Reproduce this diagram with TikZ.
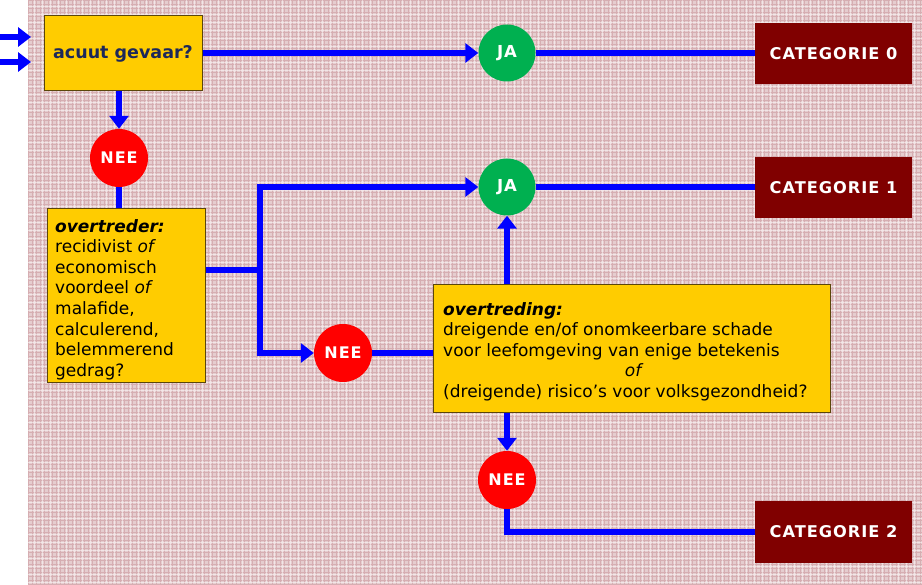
\documentclass[tikz,border=0pt]{standalone}
\usepackage{fontspec}
\setmainfont{DejaVu Sans}
\usetikzlibrary{arrows.meta}

\definecolor{plaid}{RGB}{229,205,207}
\definecolor{plaidline}{RGB}{214,174,178}
\definecolor{boxyellow}{RGB}{255,204,0}
\definecolor{boxedge}{RGB}{90,70,10}
\definecolor{catred}{RGB}{128,0,0}
\definecolor{yesgreen}{RGB}{0,176,80}
\definecolor{nored}{RGB}{255,0,0}
\definecolor{flowblue}{RGB}{0,0,255}
\definecolor{navytext}{RGB}{28,40,90}

\newcommand{\spaced}{\addfontfeatures{LetterSpace=6}}

\tikzset{
  question/.style={draw=boxedge, line width=1pt, fill=boxyellow, inner sep=0pt},
  category/.style={fill=catred, text=white, inner sep=0pt,
    minimum width=157pt, minimum height=61pt,
    font=\bfseries\fontsize{16.2}{18}\selectfont\spaced},
  yesdot/.style={circle, fill=yesgreen, text=white, inner sep=0pt,
    minimum size=57pt, font=\bfseries\fontsize{16.5}{18}\selectfont\spaced},
  nodot/.style={circle, fill=nored, text=white, inner sep=0pt,
    minimum size=58pt, font=\bfseries\fontsize{16}{18}\selectfont\spaced},
  flow/.style={draw=flowblue, line width=6pt, line join=miter},
  flowarrow/.style={flow, -{Triangle[length=13pt,width=19pt]}},
}

\begin{document}
\begin{tikzpicture}[x=1pt, y=-1pt]
  \useasboundingbox (0,0) rectangle (922,585);

  % checked backdrop
  \fill[plaid] (28,0) rectangle (922,585);
  \begin{scope}
    \clip (28,0) rectangle (922,585);
    \draw[plaidline, line width=0.6pt] (28,0) grid[step=4pt] (922,585);
    \draw[white, opacity=0.5, line width=0.5pt, xshift=2pt, yshift=2pt] (26,-2) grid[step=8pt] (922,585);
  \end{scope}

  % boxes
  \node[question, minimum width=158pt, minimum height=75pt, text=navytext,
        font=\bfseries\fontsize{17.5}{20}\selectfont] (acuut) at (123,53.5) {acuut gevaar?};

  \node[question, minimum width=158pt, minimum height=174pt] (dader) at (126,296) {};
  \node[anchor=north west, inner sep=0pt, align=left,
        font=\fontsize{17}{20.6}\selectfont] (daderText) at (55,219)
    {\textbf{\textit{overtreder:}}\\ recidivist \textit{of}\\ economisch\\ voordeel \textit{of}\\ malafide,\\ calculerend,\\ belemmerend\\ gedrag?};

  \node[question, minimum width=397pt, minimum height=128pt] (daad) at (631.5,349) {};
  \node[anchor=north west, inner sep=0pt, align=left,
        font=\fontsize{17}{20.6}\selectfont] (daadText) at (443,302)
    {\textbf{\textit{overtreding:}}\\
     dreigende en/of onomkeerbare schade\\
     voor leefomgeving van enige betekenis\\
     \makebox[382pt][c]{\textit{of}}\\
     (dreigende) risico’s voor volksgezondheid?};

  \node[category] (cat0) at (833.5,53.5) {CATEGORIE 0};
  \node[category] (cat1) at (833.5,188) {CATEGORIE 1};
  \node[category] (cat2) at (833.5,532) {CATEGORIE 2};

  % decision dots
  \node[yesdot] (ja0) at (507,53) {JA};
  \node[yesdot] (ja1) at (507,187) {JA};
  \node[nodot] (nee0) at (119,158) {NEE};
  \node[nodot] (nee1) at (343,353) {NEE};
  \node[nodot] (nee2) at (507,480) {NEE};

  % entry arrows
  \coordinate (inA) at (0,37);
  \coordinate (inAend) at (31,37);
  \coordinate (inB) at (0,62);
  \coordinate (inBend) at (31,62);
  \draw[flowarrow] (inA) -- (inAend);
  \draw[flowarrow] (inB) -- (inBend);

  % connectors
  \draw[flowarrow] (acuut.east |- ja0) -- (ja0.west);
  \draw[flow] (ja0.east) -- (cat0.west |- ja0);
  \draw[flowarrow] (acuut.south -| nee0) -- (nee0.north);
  \draw[flow] (nee0.south) -- (nee0 |- dader.north);

  \coordinate (split) at (260,270);
  \draw[flow] (dader.east |- split) -- (split);
  \draw[flowarrow] (split) |- (ja1.west);
  \draw[flowarrow] (split) |- (nee1.west);
  \draw[flow] (nee1.east) -- (daad.west |- nee1);

  \draw[flowarrow] (ja1 |- daad.north) -- (ja1.south);
  \draw[flow] (ja1.east) -- (cat1.west |- ja1);

  \draw[flowarrow] (nee2 |- daad.south) -- (nee2.north);
  \draw[flow] (nee2.south) |- (cat2.west);
\end{tikzpicture}
\end{document}
